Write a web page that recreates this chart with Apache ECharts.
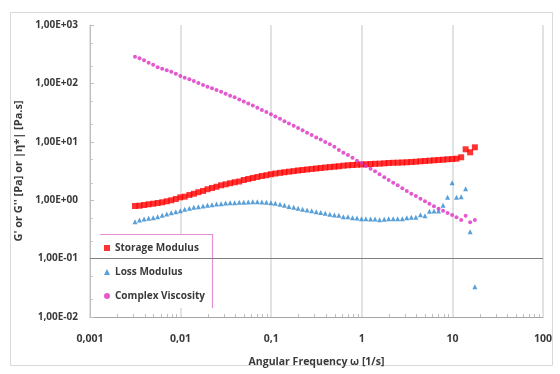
<!DOCTYPE html>
<html>
<head>
<meta charset="utf-8">
<script src="https://cdn.jsdelivr.net/npm/echarts@6/dist/echarts.min.js"></script>
<style>
  html, body { margin: 0; padding: 0; background: #ffffff; }
  #chart { width: 560px; height: 374px; }
</style>
</head>
<body>
<div id="chart"></div>
<script>
// Frequency sweep: angular frequency [1/s]
const omega = [
  0.00314, 0.00352, 0.00395, 0.00444, 0.00498, 0.00558, 0.00626, 0.00703, 0.00789, 0.00885,
  0.00993, 0.0111, 0.0125, 0.0140, 0.0157, 0.0177, 0.0198, 0.0222, 0.0249, 0.0280,
  0.0314, 0.0352, 0.0395, 0.0444, 0.0498, 0.0558, 0.0626, 0.0703, 0.0789, 0.0885,
  0.0993, 0.111, 0.125, 0.140, 0.157, 0.177, 0.198, 0.222, 0.249, 0.280,
  0.314, 0.352, 0.395, 0.444, 0.498, 0.558, 0.626, 0.703, 0.789, 0.885,
  0.993, 1.11, 1.25, 1.40, 1.57, 1.77, 1.98, 2.22, 2.49, 2.80,
  3.14, 3.52, 3.95, 4.44, 4.98, 5.58, 6.26, 7.03, 7.89, 8.85,
  9.93, 11.1, 12.5, 14.0, 15.7, 17.7
];

// G' [Pa]
const storageModulus = [
  0.796, 0.805, 0.828, 0.851, 0.871, 0.896, 0.921, 0.957, 0.996, 1.05,
  1.12, 1.15, 1.23, 1.29, 1.37, 1.44, 1.54, 1.62, 1.70, 1.80,
  1.87, 1.95, 2.03, 2.09, 2.22, 2.31, 2.40, 2.50, 2.60, 2.68,
  2.78, 2.86, 2.94, 3.01, 3.08, 3.15, 3.23, 3.29, 3.36, 3.42,
  3.49, 3.56, 3.63, 3.69, 3.75, 3.81, 3.90, 3.96, 4.01, 4.05,
  4.09, 4.12, 4.17, 4.20, 4.22, 4.28, 4.34, 4.37, 4.39, 4.42,
  4.46, 4.51, 4.56, 4.64, 4.69, 4.75, 4.82, 4.88, 4.94, 5.02,
  5.08, 5.14, 5.43, 7.44, 6.61, 8.05
];

// G'' [Pa]
const lossModulus = [
  0.428, 0.458, 0.477, 0.490, 0.502, 0.522, 0.551, 0.580, 0.611, 0.635,
  0.661, 0.699, 0.727, 0.756, 0.774, 0.796, 0.818, 0.837, 0.861, 0.871,
  0.896, 0.906, 0.906, 0.921, 0.921, 0.932, 0.943, 0.943, 0.932, 0.921,
  0.906, 0.885, 0.851, 0.818, 0.780, 0.756, 0.727, 0.701, 0.680, 0.659,
  0.635, 0.616, 0.597, 0.576, 0.558, 0.551, 0.522, 0.522, 0.502, 0.496,
  0.482, 0.482, 0.477, 0.477, 0.464, 0.471, 0.482, 0.482, 0.482, 0.482,
  0.502, 0.510, 0.510, 0.565, 0.543, 0.645, 0.653, 0.653, 0.818, 1.12,
  1.99, 1.12, 1.15, 1.57, 0.289, 0.033
];

// |η*| [Pa.s]
const complexViscosity = [
  286, 269, 249, 226, 209, 189, 179, 168, 159, 147,
  134, 125, 117.5, 110, 101.6, 94, 87.8, 82.4, 77.1, 72.1,
  66.6, 61.5, 57.8, 53.0, 49.0, 45.3, 41.8, 38.4, 35.0, 32.4,
  29.6, 27.0, 24.7, 22.5, 20.6, 18.8, 17.2, 15.7, 14.3, 13.1,
  11.9, 10.9, 9.96, 9.10, 8.24, 7.24, 6.50, 5.94, 5.34, 4.75,
  4.28, 3.85, 3.46, 3.13, 2.78, 2.47, 2.22, 1.99, 1.80, 1.60,
  1.44, 1.29, 1.18, 1.06, 0.958, 0.871, 0.786, 0.715, 0.661, 0.604,
  0.558, 0.510, 0.458, 0.543, 0.418, 0.458
];

const xTickLabels = ['0,001', '0,01', '0,1', '1', '10', '100'];
const yTickLabels = ['1,00E-02', '1,00E-01', '1,00E+00', '1,00E+01', '1,00E+02', '1,00E+03'];

const seriesNames = ['Storage Modulus', 'Loss Modulus', 'Complex Viscosity'];
const seriesColors = ['#ff0000', '#2f88cf', '#dc2fc4'];

const FONT = '"Open Sans", "Liberation Sans", sans-serif';
const TEXT_COLOR = '#3a3a3a';

const pairs = vals => omega.map((w, i) => [w, vals[i]]);

const chart = echarts.init(document.getElementById('chart'), null, { renderer: 'canvas' });

chart.setOption({
  animation: false,
  backgroundColor: '#ffffff',
  grid: { left: 90, right: 17, top: 25, bottom: 57, containLabel: false },
  xAxis: {
    type: 'log',
    logBase: 10,
    min: 0.001,
    max: 100,
    splitNumber: 5,
    name: 'Angular Frequency \u03c9 [1/s]',
    nameLocation: 'middle',
    nameGap: 40,
    nameTextStyle: { fontFamily: FONT, fontWeight: 'bold', fontSize: 10.5, color: TEXT_COLOR },
    axisLine: { show: true, lineStyle: { color: '#a6a6a6', width: 1 } },
    axisTick: { show: false },
    axisLabel: {
      margin: 17,
      fontFamily: FONT, fontWeight: 'bold', fontSize: 10.5, color: TEXT_COLOR,
      formatter: v => xTickLabels[Math.round(Math.log10(v)) + 3]
    },
    splitLine: { show: true, lineStyle: { color: '#d9d9d9', width: 1.5 } }
  },
  yAxis: {
    type: 'log',
    logBase: 10,
    min: 0.01,
    max: 1000,
    splitNumber: 5,
    name: "G' or G'' [Pa] or |\u03b7*| [Pa.s]",
    nameLocation: 'middle',
    nameGap: 61,
    nameTextStyle: { fontFamily: FONT, fontWeight: 'bold', fontSize: 11, color: TEXT_COLOR },
    axisLine: { show: true, lineStyle: { color: '#bfbfbf', width: 1 } },
    axisTick: { show: true, inside: true, length: 4, lineStyle: { color: '#bfbfbf' } },
    axisLabel: {
      margin: 12,
      fontFamily: FONT, fontWeight: 'bold', fontSize: 10, color: TEXT_COLOR,
      formatter: v => yTickLabels[Math.round(Math.log10(v)) + 2]
    },
    splitLine: { show: false }
  },
  legend: {
    orient: 'vertical',
    left: 104,
    top: 241,
    padding: 0,
    itemGap: 10,
    itemWidth: 6,
    itemHeight: 6,
    z: 6,
    selectedMode: false,
    textStyle: { fontFamily: FONT, fontWeight: 'bold', fontSize: 10, color: TEXT_COLOR, lineHeight: 14 },
    data: [
      { name: seriesNames[0], icon: 'rect' },
      { name: seriesNames[1], icon: 'triangle' },
      { name: seriesNames[2], icon: 'circle' }
    ]
  },
  series: [
    {
      name: seriesNames[0], type: 'scatter', symbol: 'rect', symbolSize: 6,
      itemStyle: { color: seriesColors[0] },
      data: pairs(storageModulus),
      markLine: {
        silent: true, symbol: 'none', animation: false,
        label: { show: false },
        lineStyle: { color: '#7f7f7f', width: 1, type: 'solid' },
        data: [{ yAxis: 0.1 }]
      }
    },
    {
      name: seriesNames[1], type: 'scatter', symbol: 'triangle', symbolSize: 5,
      itemStyle: { color: seriesColors[1] },
      data: pairs(lossModulus)
    },
    {
      name: seriesNames[2], type: 'scatter', symbol: 'circle', symbolSize: 4,
      itemStyle: { color: seriesColors[2] },
      data: pairs(complexViscosity)
    }
  ]
});

// Minor ticks, legend frame and outer border
const graphics = [];
const xAt = v => chart.convertToPixel({ xAxisIndex: 0 }, v);
const yAt = v => chart.convertToPixel({ yAxisIndex: 0 }, v);
const xAxisY = yAt(0.01);
const yAxisX = xAt(0.001);

for (let d = -3; d <= 1; d++) {
  for (let k = 2; k <= 9; k++) {
    const px = Math.round(xAt(k * Math.pow(10, d))) + 0.5;
    graphics.push({
      type: 'line', silent: true, z: 1,
      shape: { x1: px, y1: xAxisY, x2: px, y2: xAxisY - 3 },
      style: { stroke: '#bfbfbf', lineWidth: 1 }
    });
  }
}
for (let d = -2; d <= 2; d++) {
  [2, 5].forEach(k => {
    const py = Math.round(yAt(k * Math.pow(10, d))) + 0.5;
    graphics.push({
      type: 'line', silent: true, z: 1,
      shape: { x1: yAxisX, y1: py, x2: yAxisX + 3, y2: py },
      style: { stroke: '#c8c8c8', lineWidth: 1 }
    });
  });
}

// Legend panel
graphics.push({
  type: 'rect', silent: true, z: 3,
  shape: { x: 100, y: 234, width: 113, height: 74 },
  style: { fill: '#ffffff', stroke: null }
});
graphics.push({
  type: 'polyline', silent: true, z: 4,
  shape: { points: [[100, 234.5], [212.5, 234.5], [212.5, 308]] },
  style: { stroke: '#e58fd6', lineWidth: 1.2, fill: null }
});

// Chart frame
graphics.push({
  type: 'rect', silent: true, z: 0,
  shape: { x: 10.5, y: 12.5, width: 542, height: 353 },
  style: { fill: null, stroke: '#d9d9d9', lineWidth: 1 }
});

chart.setOption({ graphic: graphics });
</script>
</body>
</html>
